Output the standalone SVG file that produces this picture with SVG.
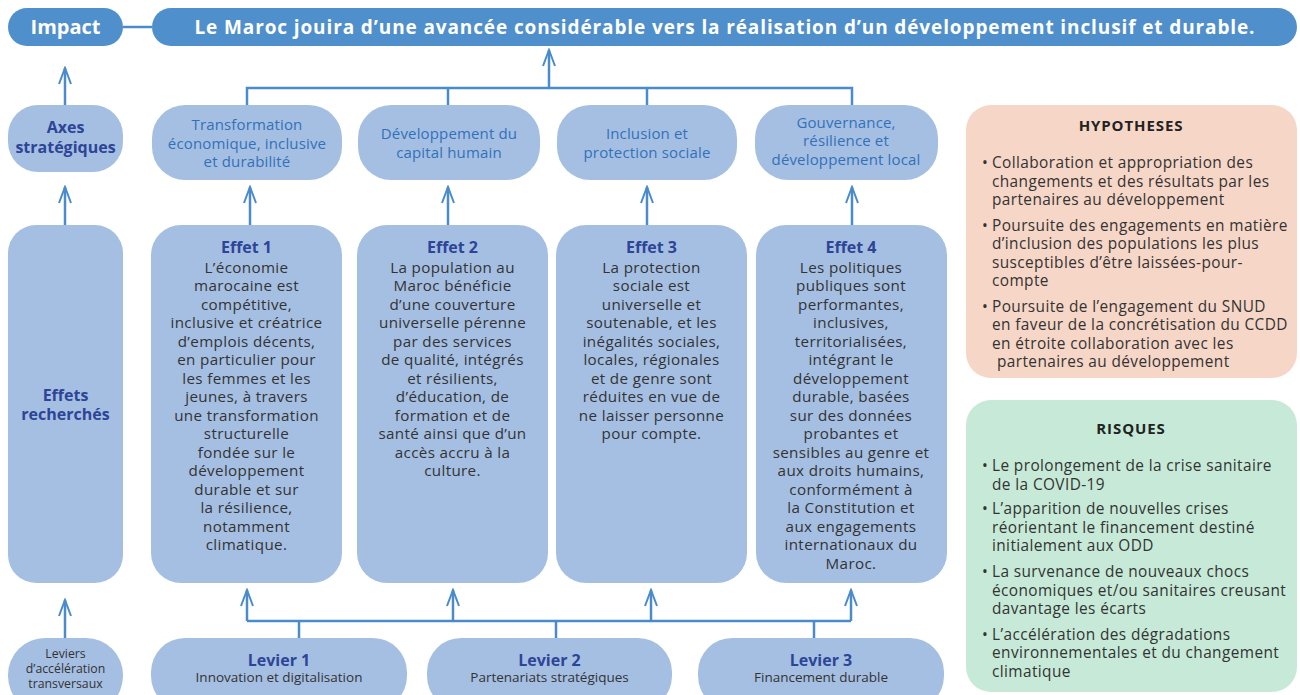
<svg xmlns="http://www.w3.org/2000/svg" width="1300" height="695" viewBox="0 0 1300 695">
<defs>
<marker id="arr" markerUnits="userSpaceOnUse" markerWidth="20" markerHeight="16" viewBox="-18 -8 20 16" refX="0" refY="0" orient="auto">
<path d="M-16,-6 L0,0 L-16,6" fill="none" stroke="#4a8bcb" stroke-width="2"/>
</marker>
<style>
text{font-family:"Open Sans","Noto Sans","Liberation Sans",sans-serif;}
.dark{fill:#4f8fcc;}
.light{fill:#a5bfe3;}
.ln{stroke:#4a8bcb;stroke-width:2.5;fill:none;}
.wt{fill:#ffffff;font-weight:bold;text-anchor:middle;}
.ttl{fill:#2d4596;font-weight:bold;text-anchor:middle;font-size:16px;}
.ax{fill:#3271b9;text-anchor:middle;font-size:15px;letter-spacing:0.15px;}
.body{fill:#333333;text-anchor:middle;font-size:15.2px;letter-spacing:0.35px;}
.side{fill:#333333;font-size:15.4px;letter-spacing:0.4px;}
.hd{fill:#222222;font-weight:bold;text-anchor:middle;font-size:15px;letter-spacing:0.9px;}
.sub{fill:#333333;text-anchor:middle;font-size:13.5px;}
.lv{fill:#333333;text-anchor:middle;font-size:12.3px;}
</style>
</defs>

<g id="connectors">
<line class="ln" x1="123" y1="27" x2="152" y2="27"/>
<line class="ln" x1="65" y1="105" x2="65" y2="68" marker-end="url(#arr)"/>
<polyline class="ln" points="247,105 247,88 852,88 852,105"/>
<line class="ln" x1="448" y1="105" x2="448" y2="88"/>
<line class="ln" x1="647" y1="105" x2="647" y2="88"/>
<line class="ln" x1="549" y1="88" x2="549" y2="50" marker-end="url(#arr)"/>
<line class="ln" x1="65" y1="225" x2="65" y2="187" marker-end="url(#arr)"/>
<line class="ln" x1="250" y1="225" x2="250" y2="187" marker-end="url(#arr)"/>
<line class="ln" x1="448" y1="225" x2="448" y2="187" marker-end="url(#arr)"/>
<line class="ln" x1="647" y1="225" x2="647" y2="187" marker-end="url(#arr)"/>
<line class="ln" x1="852" y1="225" x2="852" y2="187" marker-end="url(#arr)"/>
<line class="ln" x1="247" y1="621" x2="851" y2="621"/>
<line class="ln" x1="247" y1="621" x2="247" y2="590" marker-end="url(#arr)"/>
<line class="ln" x1="453" y1="621" x2="453" y2="590" marker-end="url(#arr)"/>
<line class="ln" x1="651" y1="621" x2="651" y2="590" marker-end="url(#arr)"/>
<line class="ln" x1="851" y1="621" x2="851" y2="590" marker-end="url(#arr)"/>
<line class="ln" x1="299" y1="638" x2="299" y2="621"/>
<line class="ln" x1="556" y1="638" x2="556" y2="621"/>
<line class="ln" x1="814" y1="638" x2="814" y2="621"/>
<line class="ln" x1="65" y1="638" x2="65" y2="600" marker-end="url(#arr)"/>
</g>

<g id="impact">
<rect class="dark" x="8" y="8" width="115" height="38" rx="19"/>
<text class="wt" x="65.5" y="34" font-size="20">Impact</text>
</g>
<g id="impact-statement">
<rect class="dark" x="152" y="8" width="1145" height="38" rx="19"/>
<text class="wt" x="724.5" y="34" font-size="19" textLength="1060" lengthAdjust="spacing">Le Maroc jouira d’une avancée considérable vers la réalisation d’un développement inclusif et durable.</text>
</g>

<g id="axes-label">
<rect class="light" x="8" y="105" width="115" height="67" rx="30"/>
<text class="ttl" x="65.5" y="133" font-size="15">Axes</text>
<text class="ttl" x="65.5" y="152.5" font-size="15">stratégiques</text>
</g>
<g id="axe1">
<rect class="light" x="152" y="105" width="190" height="75" rx="33"/>
<text class="ax" x="247" y="130">Transformation</text>
<text class="ax" x="247" y="148.5">économique, inclusive</text>
<text class="ax" x="247" y="167">et durabilité</text>
</g>
<g id="axe2">
<rect class="light" x="358" y="105" width="182" height="75" rx="33"/>
<text class="ax" x="449" y="139">Développement du</text>
<text class="ax" x="449" y="157.5">capital humain</text>
</g>
<g id="axe3">
<rect class="light" x="557" y="105" width="180" height="75" rx="33"/>
<text class="ax" x="647" y="139">Inclusion et</text>
<text class="ax" x="647" y="157.5">protection sociale</text>
</g>
<g id="axe4">
<rect class="light" x="755" y="105" width="183" height="75" rx="33"/>
<text class="ax" x="846" y="127.5">Gouvernance,</text>
<text class="ax" x="846" y="146">résilience et</text>
<text class="ax" x="846" y="164.5">développement local</text>
</g>

<g id="effets-label">
<rect class="light" x="8" y="225" width="115" height="358" rx="28"/>
<text class="ttl" x="65.5" y="401" font-size="15.5">Effets</text>
<text class="ttl" x="65.5" y="420" font-size="15.5">recherchés</text>
</g>

<g id="effet1">
<rect class="light" x="151" y="225" width="191" height="358" rx="30"/>
<text class="ttl" x="246.5" y="253">Effet 1</text>
<text class="body" x="246.5" y="272.5">L’économie</text>
<text class="body" x="246.5" y="291">marocaine est</text>
<text class="body" x="246.5" y="309.5">compétitive,</text>
<text class="body" x="246.5" y="328">inclusive et créatrice</text>
<text class="body" x="246.5" y="346.5">d’emplois décents,</text>
<text class="body" x="246.5" y="365">en particulier pour</text>
<text class="body" x="246.5" y="383.5">les femmes et les</text>
<text class="body" x="246.5" y="402">jeunes, à travers</text>
<text class="body" x="246.5" y="420.5">une transformation</text>
<text class="body" x="246.5" y="439">structurelle</text>
<text class="body" x="246.5" y="457.5">fondée sur le</text>
<text class="body" x="246.5" y="476">développement</text>
<text class="body" x="246.5" y="494.5">durable et sur</text>
<text class="body" x="246.5" y="513">la résilience,</text>
<text class="body" x="246.5" y="531.5">notamment</text>
<text class="body" x="246.5" y="550">climatique.</text>
</g>

<g id="effet2">
<rect class="light" x="357" y="225" width="191" height="358" rx="30"/>
<text class="ttl" x="452.5" y="253">Effet 2</text>
<text class="body" x="452.5" y="272.5">La population au</text>
<text class="body" x="452.5" y="291">Maroc bénéficie</text>
<text class="body" x="452.5" y="309.5">d’une couverture</text>
<text class="body" x="452.5" y="328">universelle pérenne</text>
<text class="body" x="452.5" y="346.5">par des services</text>
<text class="body" x="452.5" y="365">de qualité, intégrés</text>
<text class="body" x="452.5" y="383.5">et résilients,</text>
<text class="body" x="452.5" y="402">d’éducation, de</text>
<text class="body" x="452.5" y="420.5">formation et de</text>
<text class="body" x="452.5" y="439">santé ainsi que d’un</text>
<text class="body" x="452.5" y="457.5">accès accru à la</text>
<text class="body" x="452.5" y="476">culture.</text>
</g>

<g id="effet3">
<rect class="light" x="556" y="225" width="191" height="358" rx="30"/>
<text class="ttl" x="651.5" y="253">Effet 3</text>
<text class="body" x="651.5" y="272.5">La protection</text>
<text class="body" x="651.5" y="291">sociale est</text>
<text class="body" x="651.5" y="309.5">universelle et</text>
<text class="body" x="651.5" y="328">soutenable, et les</text>
<text class="body" x="651.5" y="346.5">inégalités sociales,</text>
<text class="body" x="651.5" y="365">locales, régionales</text>
<text class="body" x="651.5" y="383.5">et de genre sont</text>
<text class="body" x="651.5" y="402">réduites en vue de</text>
<text class="body" x="651.5" y="420.5">ne laisser personne</text>
<text class="body" x="651.5" y="439">pour compte.</text>
</g>

<g id="effet4">
<rect class="light" x="756" y="225" width="191" height="358" rx="30"/>
<text class="ttl" x="851" y="253">Effet 4</text>
<text class="body" x="851" y="272.5">Les politiques</text>
<text class="body" x="851" y="291">publiques sont</text>
<text class="body" x="851" y="309.5">performantes,</text>
<text class="body" x="851" y="328">inclusives,</text>
<text class="body" x="851" y="346.5">territorialisées,</text>
<text class="body" x="851" y="365">intégrant le</text>
<text class="body" x="851" y="383.5">développement</text>
<text class="body" x="851" y="402">durable, basées</text>
<text class="body" x="851" y="420.5">sur des données</text>
<text class="body" x="851" y="439">probantes et</text>
<text class="body" x="851" y="457.5">sensibles au genre et</text>
<text class="body" x="851" y="476">aux droits humains,</text>
<text class="body" x="851" y="494.5">conformément à</text>
<text class="body" x="851" y="513">la Constitution et</text>
<text class="body" x="851" y="531.5">aux engagements</text>
<text class="body" x="851" y="550">internationaux du</text>
<text class="body" x="851" y="568.5">Maroc.</text>
</g>

<g id="leviers-label">
<rect class="light" x="8" y="638" width="115" height="75" rx="37"/>
<text class="lv" x="65.5" y="657.5">Leviers</text>
<text class="lv" x="65.5" y="672.5">d’accélération</text>
<text class="lv" x="65.5" y="687.5">transversaux</text>
</g>
<g id="levier1">
<rect class="light" x="151" y="638" width="256" height="72" rx="34"/>
<text class="ttl" x="279" y="666">Levier 1</text>
<text class="sub" x="279" y="682">Innovation et digitalisation</text>
</g>
<g id="levier2">
<rect class="light" x="427" y="638" width="245" height="72" rx="34"/>
<text class="ttl" x="549.5" y="666">Levier 2</text>
<text class="sub" x="549.5" y="682">Partenariats stratégiques</text>
</g>
<g id="levier3">
<rect class="light" x="698" y="638" width="246" height="72" rx="34"/>
<text class="ttl" x="821" y="666">Levier 3</text>
<text class="sub" x="821" y="682">Financement durable</text>
</g>

<g id="hypotheses">
<rect x="966" y="105" width="331" height="273" rx="25" fill="#f6d6c7"/>
<text class="hd" x="1131" y="131">HYPOTHESES</text>
<text class="side" x="982" y="168">•</text>
<text class="side" x="992" y="168">Collaboration et appropriation des</text>
<text class="side" x="992" y="186.5">changements et des résultats par les</text>
<text class="side" x="992" y="205">partenaires au développement</text>
<text class="side" x="982" y="230.5">•</text>
<text class="side" x="992" y="230.5">Poursuite des engagements en matière</text>
<text class="side" x="992" y="249">d’inclusion des populations les plus</text>
<text class="side" x="992" y="267.5">susceptibles d’être laissées-pour-</text>
<text class="side" x="992" y="286">compte</text>
<text class="side" x="982" y="311.5">•</text>
<text class="side" x="992" y="311.5">Poursuite de l’engagement du SNUD</text>
<text class="side" x="992" y="330">en faveur de la concrétisation du CCDD</text>
<text class="side" x="992" y="348.5">en étroite collaboration avec les</text>
<text class="side" x="997" y="367">partenaires au développement</text>
</g>

<g id="risques">
<rect x="966" y="400" width="331" height="292" rx="25" fill="#c6ead7"/>
<text class="hd" x="1131" y="433.5">RISQUES</text>
<text class="side" x="982" y="471">•</text>
<text class="side" x="992" y="471">Le prolongement de la crise sanitaire</text>
<text class="side" x="992" y="489.5">de la COVID-19</text>
<text class="side" x="982" y="514">•</text>
<text class="side" x="992" y="514">L’apparition de nouvelles crises</text>
<text class="side" x="992" y="532.5">réorientant le financement destiné</text>
<text class="side" x="992" y="551">initialement aux ODD</text>
<text class="side" x="982" y="577">•</text>
<text class="side" x="992" y="577">La survenance de nouveaux chocs</text>
<text class="side" x="992" y="595.5">économiques et/ou sanitaires creusant</text>
<text class="side" x="992" y="614">davantage les écarts</text>
<text class="side" x="982" y="639.5">•</text>
<text class="side" x="992" y="639.5">L’accélération des dégradations</text>
<text class="side" x="992" y="658">environnementales et du changement</text>
<text class="side" x="992" y="676.5">climatique</text>
</g>
</svg>
